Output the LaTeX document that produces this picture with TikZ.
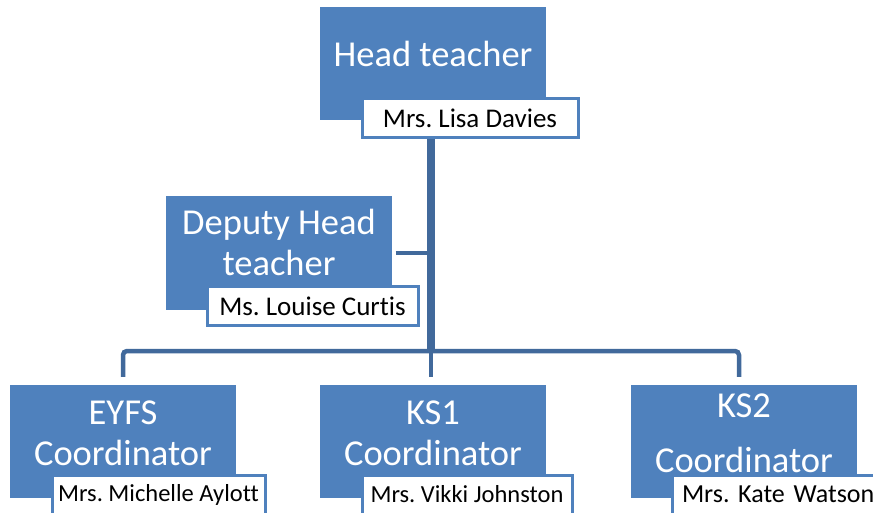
\documentclass[tikz,border=0pt]{standalone}
\usepackage{fontspec}
\setmainfont[Ligatures=NoCommon]{Carlito}
\frenchspacing
\usetikzlibrary{positioning}
\definecolor{boxColor}{RGB}{79,129,189}
\definecolor{lineColor}{RGB}{65,105,155}
\tikzstyle{chart} = [x = 1pt, y = -1pt]
\tikzstyle{roleBox} = [fill=boxColor, minimum width=226pt, minimum height=113pt, inner sep=0pt]
\tikzstyle{roleText} = [text=white, font=\fontsize{36.5}{41}\selectfont, align=center, anchor=base, inner sep=0pt]
\tikzstyle{nameBox} = [draw=boxColor, fill=white, line width=3pt, minimum height=39pt, inner sep=0pt, font=\fontsize{27}{30}\selectfont]
\tikzstyle{smallName} = [font=\fontsize{24.5}{28}\selectfont]
\tikzstyle{edgeName} = [font=\fontsize{26}{30}\selectfont, inner xsep=10pt, text width=195pt, align=left]
\tikzstyle{trunkLine} = [draw=lineColor, line width=8pt]
\tikzstyle{branchLine} = [draw=lineColor, line width=4.5pt, rounded corners=4pt]
\newcommand{\nameBox}[6][]{\node [nameBox, minimum width=#5, #1] (#2) at (#3,#4) {#6};}

\begin{document}
\begin{tikzpicture}[chart]
      \clip (0,0) rectangle (873,513);

      \node [roleBox] (head) at (433,63.5) {};
      \node [roleBox] (deputy) at (278.5,253) {};
      \node [roleBox] (eyfs) at (123,441.5) {};
      \node [roleBox] (ks1) at (433,441.5) {};
      \node [roleBox] (ks2) at (744,441.5) {};

      % base anchor sits on the last line
      \node [roleText] (headTitle) at (433,67) {Head teacher};
      \node [roleText] (deputyTitle) at (279,276) {Deputy Head\\teacher};
      \node [roleText] (eyfsTitle) at (123,465) {EYFS\\Coordinator};
      \node [roleText] (ks1Title) at (433,465) {KS1\\Coordinator};
      \node [roleText, font=\fontsize{36.5}{55}\selectfont] (ks2Title) at (744,472) {KS2\\Coordinator};

      \nameBox{headName}{470}{118.5}{216pt}{Mrs. Lisa Davies}
      \nameBox{deputyName}{312.5}{306}{211pt}{Ms. Louise Curtis}
      \nameBox[smallName]{eyfsName}{158.5}{494.5}{213pt}{Mrs. Michelle Aylott}
      \nameBox[smallName]{ksOneName}{467}{494.5}{210pt}{Mrs. Vikki Johnston}
      \nameBox[edgeName]{ksTwoName}{779.5}{494.5}{215pt}{Mrs. Kate Watson}

      \coordinate (hub) at (431,351);
      \draw [trunkLine] (headName.south -| hub) -- (hub);
      \draw [branchLine] ([xshift=4pt]deputy.east) -- (deputy.east -| hub);
      \draw [branchLine] ([yshift=8pt]eyfs.north) |- (hub) -| ([xshift=-5pt, yshift=8pt]ks2.north);
      \draw [branchLine] (hub) -- ([yshift=8pt]ks1.north -| hub);
    \end{tikzpicture}
\end{document}
